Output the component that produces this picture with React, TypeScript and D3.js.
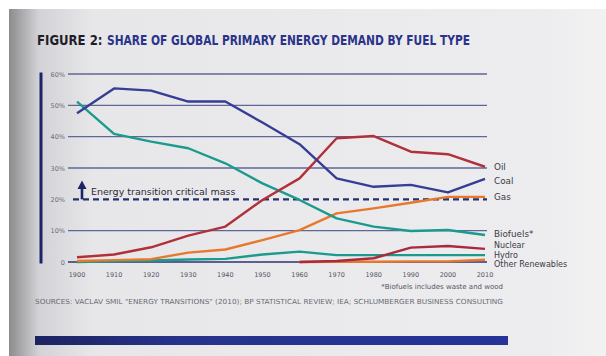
import React from "react";
import * as d3 from "d3";

const years = [1900, 1910, 1920, 1930, 1940, 1950, 1960, 1970, 1980, 1990, 2000, 2010];
const coal = [47.5, 55.4, 54.7, 51.2, 51.2, 44.5, 37.6, 26.7, 24, 24.6, 22.2, 26.5];
const oil = [1.5, 2.4, 4.7, 8.4, 11.3, 19.8, 26.7, 39.5, 40.2, 35.2, 34.4, 30.4];
const biofuels = [51.2, 40.9, 38.4, 36.3, 31.5, 25.1, 19.8, 13.9, 11.3, 9.9, 10.2, 8.6];
const gas = [0.3, 0.6, 0.9, 3.0, 4.0, 7.0, 10.2, 15.5, 17.1, 18.9, 20.8, 20.8];
const hydro = [0, 0.2, 0.5, 0.8, 1.0, 2.4, 3.3, 2.2, 2.2, 2.2, 2.2, 2.2];
const nuclearYears = [1960, 1970, 1980, 1990, 2000, 2010];
const nuclear = [0, 0.3, 1.2, 4.6, 5.1, 4.2];
const otherYears = [1960, 1970, 1980, 1990, 2000, 2010];
const other = [0, 0.1, 0.1, 0.2, 0.2, 0.7];
const yTicks = [0, 10, 20, 30, 40, 50, 60];
const criticalMass = 20;

const series = [
  { name: "Other Renewables", xs: otherYears, ys: other, color: "#e8782c", labelY: 263.8 },
  { name: "Hydro", xs: years, ys: hydro, color: "#1c9a8e", labelY: 254.6 },
  { name: "Nuclear", xs: nuclearYears, ys: nuclear, color: "#a82a3c", labelY: 245.4 },
  { name: "Gas", xs: years, ys: gas, color: "#e8782c", labelY: 196.7 },
  { name: "Biofuels*", xs: years, ys: biofuels, color: "#1c9a8e", labelY: 234 },
  { name: "Oil", xs: years, ys: oil, color: "#b0303c", labelY: 166.7 },
  { name: "Coal", xs: years, ys: coal, color: "#363d94", labelY: 180.7 },
];

export default function App() {
  const x = d3.scaleLinear().domain([1900, 2010]).range([77, 485]);
  const y = d3.scaleLinear().domain([0, 60]).range([262, 74]);
  const line = d3
    .line<[number, number]>()
    .x((d) => x(d[0]))
    .y((d) => y(d[1]));

  const gridX0 = 68;
  const gridX1 = 487;

  return (
    <svg width={606} height={356} style={{ position: "absolute", left: 0, top: 0 }}>
      <defs>
        <linearGradient id="paper" x1="0" x2="1" y1="0" y2="0">
          <stop offset="0" stopColor="#8c8c8e" />
          <stop offset="0.05" stopColor="#d3d3d7" />
          <stop offset="0.14" stopColor="#e7e7ea" />
          <stop offset="0.9" stopColor="#ededef" />
          <stop offset="1" stopColor="#f2f2f3" />
        </linearGradient>
        <linearGradient id="bar" x1="0" x2="1" y1="0" y2="0">
          <stop offset="0" stopColor="#1c2360" />
          <stop offset="0.3" stopColor="#27338a" />
          <stop offset="1" stopColor="#25339a" />
        </linearGradient>
      </defs>
      <rect x={0} y={0} width={606} height={356} fill="#ffffff" />
      <rect x={9} y={9} width={597} height={347} fill="url(#paper)" />

      {/* title */}
      <text
        transform="translate(37,45) scale(0.84,1)"
        fontFamily="DejaVu Sans, sans-serif"
        fontWeight="bold"
        fontSize={14}
        fill="#1e1e2a"
      >
        FIGURE 2:
      </text>
      <text
        x={107}
        y={45}
        fontFamily="DejaVu Sans, sans-serif"
        fontWeight="bold"
        fontSize={14}
        fill="#2a348a"
        textLength={363}
        lengthAdjust="spacingAndGlyphs"
      >
        SHARE OF GLOBAL PRIMARY ENERGY DEMAND BY FUEL TYPE
      </text>

      {/* axis bar */}
      <rect x={39.5} y={72.5} width={3} height={191} fill="#1f2466" />

      {/* grid */}
      {yTicks
        .filter((t) => t !== criticalMass)
        .map((t) => (
          <line
            key={t}
            x1={gridX0}
            x2={gridX1}
            y1={y(t)}
            y2={y(t)}
            stroke={t === 0 ? "#2c3170" : "#606698"}
            strokeWidth={t === 0 ? 1.6 : 1.3}
          />
        ))}
      {yTicks.map((t) => (
        <text
          key={"l" + t}
          x={65}
          y={y(t) + 2.5}
          textAnchor="end"
          fontFamily="DejaVu Sans, sans-serif"
          fontSize={6.5}
          fill="#6c6c78"
        >
          {t === 0 ? "0" : `${t}%`}
        </text>
      ))}

      {/* critical mass */}
      <line
        x1={73}
        x2={gridX1}
        y1={y(criticalMass)}
        y2={y(criticalMass)}
        stroke="#27306e"
        strokeWidth={2.4}
        strokeDasharray="6,4"
      />
      <line x1={82} x2={82} y1={y(criticalMass)} y2={187} stroke="#1f2466" strokeWidth={2.6} />
      <path d="M77.5,189 L82,180.5 L86.5,189 Z" fill="#1f2466" />
      <text x={91} y={195} fontFamily="DejaVu Sans, sans-serif" fontSize={9.5} fill="#2a2a36">
        Energy transition critical mass
      </text>

      {/* series */}
      {series.map((s) => (
        <path
          key={s.name}
          d={line(s.xs.map((yr, i) => [yr, s.ys[i]] as [number, number])) || ""}
          fill="none"
          stroke={s.color}
          strokeWidth={2.4}
          strokeLinejoin="round"
        />
      ))}
      {series.map((s) => (
        <text
          key={"n" + s.name}
          x={494}
          y={s.labelY + 3}
          fontFamily="DejaVu Sans, sans-serif"
          fontSize={s.labelY > 240 ? 8 : 8.8}
          fill="#3a3a44"
        >
          {s.name}
        </text>
      ))}

      {/* x ticks */}
      {years.map((yr) => (
        <text
          key={"x" + yr}
          x={x(yr)}
          y={277}
          textAnchor="middle"
          fontFamily="DejaVu Sans, sans-serif"
          fontSize={6.5}
          fill="#55555f"
        >
          {yr}
        </text>
      ))}

      <text
        x={503}
        y={289}
        textAnchor="end"
        fontFamily="DejaVu Sans, sans-serif"
        fontSize={7}
        fill="#55555f"
      >
        *Biofuels includes waste and wood
      </text>
      <text
        x={35}
        y={304}
        fontFamily="DejaVu Sans, sans-serif"
        fontSize={7}
        fill="#6a6a72"
        textLength={468}
        lengthAdjust="spacingAndGlyphs"
      >
        SOURCES: VACLAV SMIL "ENERGY TRANSITIONS" (2010); BP STATISTICAL REVIEW; IEA; SCHLUMBERGER BUSINESS CONSULTING
      </text>

      <rect x={35} y={336} width={473} height={9} fill="url(#bar)" />
    </svg>
  );
}
